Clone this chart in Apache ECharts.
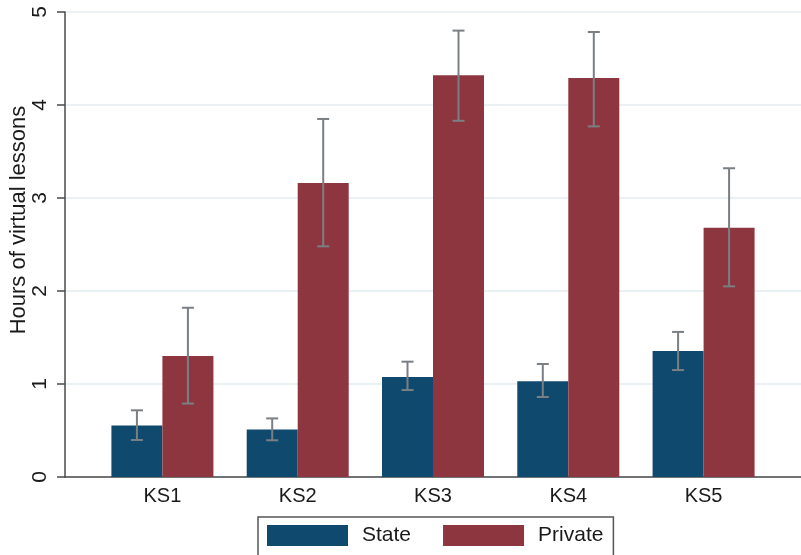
<!DOCTYPE html>
<html>
<head>
<meta charset="utf-8">
<title>Hours of virtual lessons</title>
<script src="https://cdn.jsdelivr.net/npm/echarts@6/dist/echarts.min.js"></script>
<style>
  html, body { margin: 0; padding: 0; background: #fff; }
  #chart { width: 801px; height: 555px; }
</style>
</head>
<body>
<div id="chart"></div>
<script>
const stages = ['KS1', 'KS2', 'KS3', 'KS4', 'KS5']
const stateMean = [0.555, 0.51, 1.075, 1.03, 1.355]
const stateLow = [0.398, 0.395, 0.935, 0.86, 1.15]
const stateHigh = [0.717, 0.63, 1.24, 1.215, 1.56]
const privateMean = [1.30, 3.16, 4.32, 4.29, 2.68]
const privateLow = [0.79, 2.48, 3.83, 3.77, 2.05]
const privateHigh = [1.82, 3.85, 4.80, 4.785, 3.32]
const yTicks = [0, 1, 2, 3, 4, 5]

const font = 'Liberation Sans, Arial, sans-serif'
const barW = 51

const errorSeries = (name, low, high, shift) => ({
  name: name + ' CI',
  type: 'custom',
  z: 5,
  data: stages.map((s, i) => [i + 1, low[i], high[i]]),
  encode: { x: 0, y: [1, 2] },
  renderItem: (params, api) => {
    const top = api.coord([api.value(0), api.value(2)])
    const bot = api.coord([api.value(0), api.value(1)])
    const x = top[0] + shift
    const cap = 6
    const style = { stroke: '#7a7f84', lineWidth: 2 }
    return {
      type: 'group',
      children: [
        { type: 'line', shape: { x1: x, y1: top[1], x2: x, y2: bot[1] }, style },
        { type: 'line', shape: { x1: x - cap, y1: top[1], x2: x + cap, y2: top[1] }, style },
        { type: 'line', shape: { x1: x - cap, y1: bot[1], x2: x + cap, y2: bot[1] }, style },
      ],
    }
  },
})

const chart = echarts.init(document.getElementById('chart'))
chart.setOption({
  animation: false,
  textStyle: { fontFamily: font },
  grid: { left: 65, right: 0, top: 12, bottom: 78, outerBoundsMode: 'none', containLabel: false },
  graphic: [
    {
      type: 'text',
      x: 8,
      y: 220,
      rotation: Math.PI / 2,
      style: {
        text: 'Hours of virtual lessons',
        font: '22px ' + font,
        fill: '#1a1a1a',
        align: 'center',
        verticalAlign: 'top',
      },
    },
  ],
  xAxis: {
    type: 'value',
    min: 0.28,
    max: 5.72,
    splitLine: { show: false },
    axisLine: { show: true, lineStyle: { color: '#4a4a4a', width: 1.5 } },
    axisTick: { show: false },
    axisLabel: {
      customValues: [1, 2, 3, 4, 5],
      formatter: (v) => stages[Math.round(v) - 1] || '',
      color: '#1a1a1a',
      fontSize: 20,
      margin: 9,
    },
  },
  yAxis: {
    type: 'value',
    min: 0,
    max: 5,
    interval: 1,
    axisLine: { show: true, lineStyle: { color: '#4a4a4a', width: 1.5 } },
    axisTick: { show: true, length: 8, lineStyle: { color: '#4a4a4a', width: 1.5 } },
    axisLabel: {
      customValues: yTicks,
      rotate: 90,
      fontSize: 21,
      color: '#1a1a1a',
      margin: 14,
    },
    splitLine: { show: true, lineStyle: { color: '#e3edf1', width: 1.5 } },
  },
  legend: {
    data: ['State', 'Private'],
    left: 258,
    top: 517,
    padding: [8, 10, 10, 9],
    borderColor: '#555',
    borderWidth: 1.5,
    icon: 'rect',
    itemWidth: 81,
    itemHeight: 21,
    itemGap: 32,
    textStyle: { fontSize: 21, color: '#1a1a1a', padding: [0, 0, 0, 9] },
  },
  series: [
    {
      name: 'State',
      type: 'bar',
      barWidth: barW,
      barGap: '0%',
      itemStyle: { color: '#0f4a6e' },
      data: stages.map((s, i) => [i + 1, stateMean[i]]),
    },
    {
      name: 'Private',
      type: 'bar',
      barWidth: barW,
      barGap: '0%',
      itemStyle: { color: '#8e3640' },
      data: stages.map((s, i) => [i + 1, privateMean[i]]),
    },
    errorSeries('State', stateLow, stateHigh, -barW / 2),
    errorSeries('Private', privateLow, privateHigh, barW / 2),
  ],
})
</script>
</body>
</html>
